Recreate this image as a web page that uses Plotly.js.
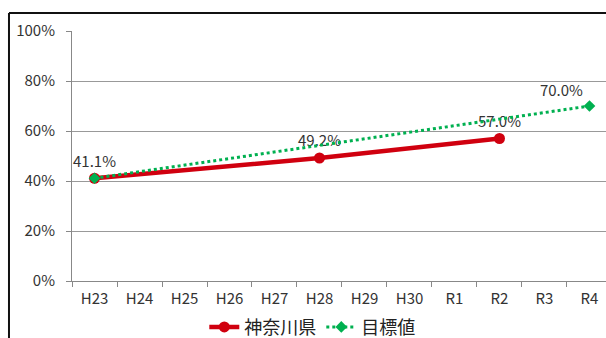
<!DOCTYPE html>
<html><head><meta charset="utf-8">
<script src="https://cdn.plot.ly/plotly-3.0.1.min.js"></script>
<style>html,body{margin:0;padding:0;background:#fff;}#chart{width:606px;height:338px;}</style>
</head><body><div id="chart"></div>
<script>
const categories = ["H23","H24","H25","H26","H27","H28","H29","H30","R1","R2","R3","R4"];
const kanagawa = [41.1, null, null, null, null, 49.2, null, null, null, 57.0, null, null];
const target   = [41.1, null, null, null, null, null, null, null, null, null, null, 70.0];
const yTicks = [0, 20, 40, 60, 80, 100];
const yTickText = ["0%","20%","40%","60%","80%","100%"];

function lbl(arr, show){ return arr.map((v,i)=> (v!==null && show[i]) ? v.toFixed(1)+"%" : ""); }

const font = "Noto Sans CJK JP, Noto Sans, sans-serif";
const red = "#D0000F", green = "#00B050";

const traces = [
  {x: categories, y: kanagawa, name: "神奈川県", type: "scatter", mode: "lines+markers+text",
   connectgaps: true, line: {color: red, width: 4.5}, marker: {color: red, size: 11, symbol: "circle"},
   text: lbl(kanagawa, kanagawa.map(v=>true)), textposition: "top center",
   textfont: {family: font, size: 15, color: "#333"}, cliponaxis: false},
  {x: categories, y: target, name: "目標値", type: "scatter", mode: "lines+markers+text",
   connectgaps: true, line: {color: green, width: 3, dash: "dot"}, marker: {color: green, size: 9, symbol: "diamond"},
   text: lbl(target, target.map((v,i)=> i===categories.length-1)),
   textposition: categories.map((c,i)=> i===categories.length-1 ? "top left" : "top center"),
   textfont: {family: font, size: 15, color: "#333"}, cliponaxis: false}
];

const layout = {
  width: 606, height: 338,
  margin: {l: 72, r: 0, t: 31, b: 57, autoexpand: false},
  paper_bgcolor: "#fff", plot_bgcolor: "#fff",
  font: {family: font, size: 15, color: "#333"},
  showlegend: true,
  legend: {orientation: "h", x: 0.45, xanchor: "center", y: -0.185, yanchor: "middle",
           font: {family: font, size: 18, color: "#222"}, bgcolor: "rgba(0,0,0,0)", itemwidth: 30},
  xaxis: {type: "category", range: [-0.5, 11.367], tickson: "boundaries", ticks: "outside", ticklen: 5,
          tickcolor: "#888", showgrid: false, showline: true, linecolor: "#888", linewidth: 1,
          ticklabelstandoff: 4,
          tickfont: {family: font, size: 15, color: "#333"}, fixedrange: true},
  yaxis: {range: [0, 100], tickvals: yTicks, ticktext: yTickText, ticks: "outside", ticklen: 5,
          tickcolor: "#888", showgrid: true, gridcolor: "#999", gridwidth: 1, showline: true,
          ticklabelstandoff: 8,
          linecolor: "#888", zeroline: false, tickfont: {family: font, size: 15, color: "#333"}, fixedrange: true},
  shapes: [
    {type: "line", xref: "paper", yref: "paper", x0: -0.118, x1: 1.1, y0: 1.072, y1: 1.072, line: {color: "#111", width: 2}},
    {type: "line", xref: "paper", yref: "paper", x0: -0.118, x1: -0.118, y0: 1.072, y1: -0.3, line: {color: "#111", width: 2}}
  ]
};
Plotly.newPlot("chart", traces, layout, {displayModeBar: false, staticPlot: true});
</script></body></html>
